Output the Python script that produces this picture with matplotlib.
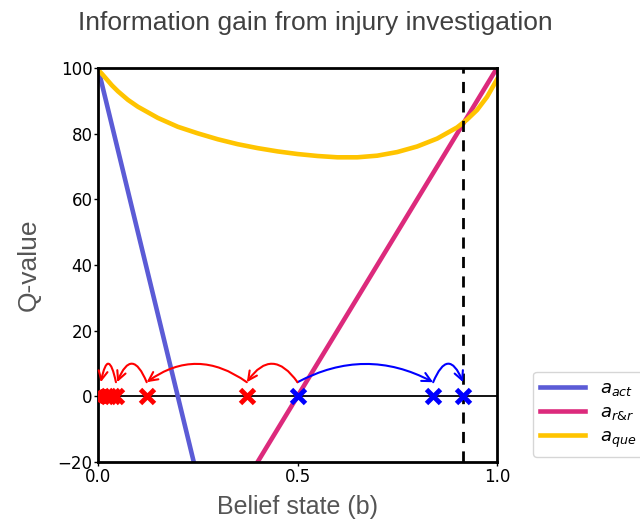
import matplotlib
matplotlib.use("Agg")
import matplotlib.pyplot as plt
import numpy as np

# ---- data ----
b_lin = [0.0, 1.0]
q_act = [100.0, -400.0]
q_rr = [-100.0, 100.0]

b_que = [0.0, 0.01, 0.02, 0.035, 0.05, 0.075, 0.1, 0.15, 0.2, 0.25, 0.3, 0.35,
         0.4, 0.45, 0.5, 0.55, 0.6, 0.65, 0.7, 0.75, 0.8, 0.85, 0.9, 0.925,
         0.95, 0.975, 1.0]
q_que = [99.5, 98.2, 96.8, 94.7, 92.9, 90.3, 88.2, 84.8, 82.1, 80.1, 78.3, 76.8,
         75.6, 74.6, 73.8, 73.2, 72.8, 72.8, 73.3, 74.4, 76.1, 78.5, 81.9, 84.3,
         87.2, 91.2, 96.5]

threshold = 0.915

red_x = [0.373, 0.122, 0.045, 0.035, 0.025]
red_o = [0.013]
blue_x = [0.5, 0.84, 0.915]

blue_arrows = [(0.5, 0.84), (0.84, 0.915)]
red_arrows = [(0.5, 0.373), (0.373, 0.122), (0.122, 0.048), (0.045, 0.007)]
arrow_y = 4.3

# ---- figure ----
fig = plt.figure(figsize=(6.4, 5.25), dpi=100)
ax = fig.add_axes([98/640, 63/525, 399/640, 394/525])

c_act = '#5b5bd6'
c_rr = '#dc2a7c'
c_que = '#ffc400'

ax.plot(b_lin, q_act, color=c_act, lw=3.3, label=r'$a_{act}$')
ax.plot(b_lin, q_rr, color=c_rr, lw=3.3, label=r'$a_{r&r}$')
ax.plot(b_que, q_que, color=c_que, lw=3.3, label=r'$a_{que}$')

ax.axhline(0, color='black', lw=1.3, zorder=1)
ax.axvline(threshold, color='black', lw=2, ls=(0, (4, 3)))

ax.plot(red_x, [0]*len(red_x), 'x', color='red', ms=10.5, mew=3.5, zorder=5)
ax.plot(red_o, [0]*len(red_o), 'o', color='red', ms=10, zorder=5)
ax.plot(blue_x, [0]*len(blue_x), 'x', color='blue', ms=10.5, mew=3.5, zorder=5)

ax.set_xlim(0, 1)
ax.set_ylim(-20, 100)
ax.set_xticks([0, 0.5, 1.0])
ax.set_xticklabels(['0.0', '0.5', '1.0'])
ax.set_yticks([-20, 0, 20, 40, 60, 80, 100])
ax.tick_params(labelsize=12, length=3, width=1, pad=1)
for s in ax.spines.values():
    s.set_linewidth(2)

fig.canvas.draw()
h_px = 18.0
def add_arrows(pairs, color):
    for x0, x1 in pairs:
        p0 = ax.transData.transform((x0, arrow_y))
        p1 = ax.transData.transform((x1, arrow_y))
        d = np.hypot(*(p1 - p0))
        rad = 2 * h_px / d
        rad = -rad if x1 > x0 else rad
        ax.annotate('', xy=(x1, arrow_y), xytext=(x0, arrow_y),
                    arrowprops=dict(arrowstyle='->', color=color, lw=1.5,
                                    shrinkA=0, shrinkB=0, mutation_scale=16,
                                    connectionstyle=f'arc3,rad={rad}'))
add_arrows(blue_arrows, 'blue')
add_arrows(red_arrows, 'red')

ax.set_xlabel('Belief state (b)', fontsize=18, color='#555555',
              family='Liberation Sans', labelpad=7)
ax.set_ylabel('Q-value', fontsize=19, color='#555555',
              family='Liberation Sans', labelpad=12)

fig.text(315/640, 1 - 23/525, 'Information gain from injury investigation',
         ha='center', va='center', fontsize=19, color='#404040',
         family='Liberation Sans')

leg = ax.legend(loc='lower left', bbox_to_anchor=(533/640, 68/525),
                bbox_transform=fig.transFigure, borderaxespad=0,
                fontsize=13, frameon=True, handlelength=2.5, labelspacing=0.3)
leg.get_frame().set_edgecolor('#cccccc')

fig.savefig('out.png', dpi=100)
